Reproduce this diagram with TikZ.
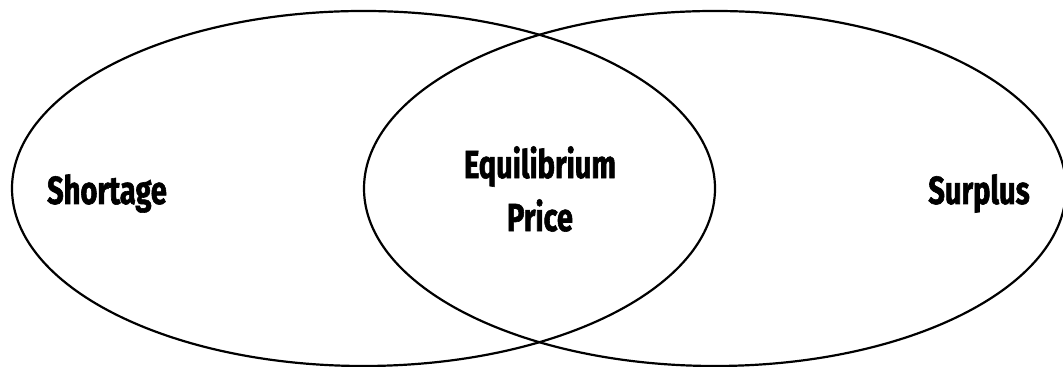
\documentclass[tikz,border=0pt]{standalone}
\usepackage{fontspec}
\newfontfamily\vennfont[FakeStretch=0.74, BoldFeatures={FakeBold=1.5}]{Fira Sans}
\begin{document}
\begin{tikzpicture}[x=0.5pt, y=0.5pt, line width=1.1pt,
		vennlabel/.style={font=\vennfont\bfseries\fontsize{19.6}{26.5}\selectfont, inner sep=0pt, align=center}]
	% khung ảnh
	\useasboundingbox (0,0) rectangle (1063,367);
	
	% Hai tập hợp giao nhau
	\coordinate (Lc) at (363.5,178.5);
	\coordinate (Rc) at (715,178.5);
	\draw (Lc) ellipse [x radius=351.5, y radius=177.5];
	\draw (Rc) ellipse [x radius=351, y radius=177.5];
	
	% Nhãn các vùng
	\node[vennlabel, anchor=base] (shortage) at (107,163) {Shortage};
	\node[vennlabel, anchor=base] (surplus) at (979,163) {Surplus};
	\node[vennlabel] (equil) at (540,178) {Equilibrium\\Price};
\end{tikzpicture}
\end{document}
